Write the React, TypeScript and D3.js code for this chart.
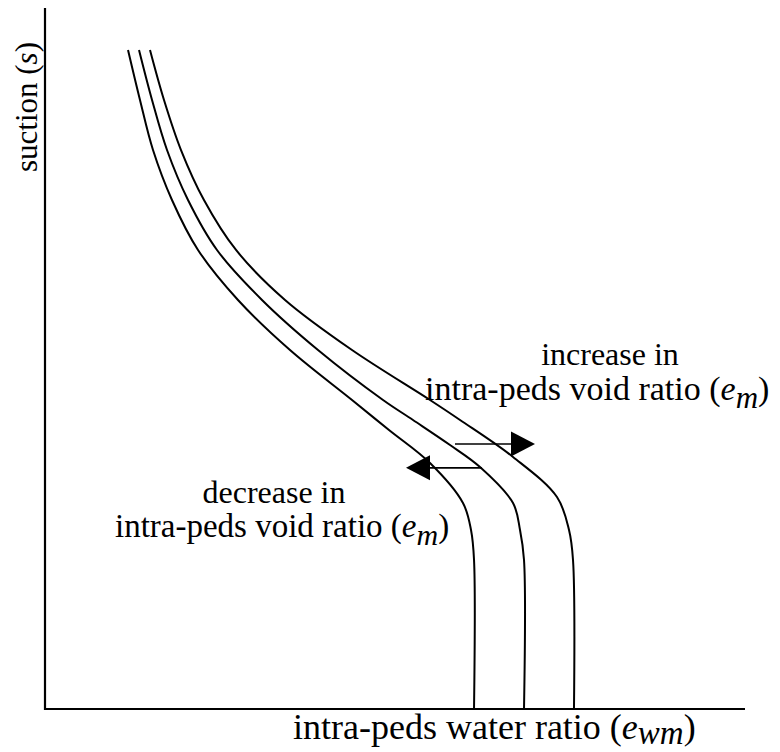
import React from "react";
import * as d3 from "d3";

// Data (arbitrary units, 0–100 on both axes): [ewm, s]
const curveLeft: [number, number][] = [
  [11.86, 94.01], [13.57, 86.88], [15.43, 79.74], [18.14, 72.61], [21.86, 65.48],
  [27.57, 58.35], [35.0, 51.21], [43.86, 44.08], [49.14, 39.8], [55.0, 35.09],
  [59.71, 29.39], [60.86, 25.53], [61.29, 21.26], [61.29, 0],
];
const curveMiddle: [number, number][] = [
  [13.43, 94.01], [15.29, 86.88], [17.43, 79.74], [20.43, 72.61], [24.57, 65.48],
  [31.0, 58.35], [39.0, 51.21], [48.29, 44.08], [52.57, 41.23], [57.86, 37.66],
  [62.14, 34.52], [66.86, 29.39], [67.86, 25.53], [68.43, 21.26], [68.43, 0],
];
const curveRight: [number, number][] = [
  [15.0, 94.01], [17.0, 86.88], [19.43, 79.74], [22.71, 72.61], [27.29, 65.48],
  [34.29, 58.35], [43.86, 51.21], [55.0, 44.08], [59.29, 41.23], [66.86, 35.95],
  [73.14, 30.24], [74.86, 25.53], [75.43, 21.26], [75.57, 0],
];
const curves = [curveLeft, curveMiddle, curveRight];

// arrows: [x0, x1, y]
const arrowIncrease: [number, number, number] = [58.57, 70.0, 37.8];
const arrowDecrease: [number, number, number] = [62.43, 51.57, 34.4];
const arrows = [arrowIncrease, arrowDecrease];

const yAxisLabel = ["suction (", "s", ")"];
const xAxisLabel = ["intra-peds water ratio (", "e", "wm", ")"];
const increaseLabel = ["increase in", "intra-peds void ratio (", "e", "m", ")"];
const decreaseLabel = ["decrease in", "intra-peds void ratio (", "e", "m", ")"];

const W = 780;
const H = 752;
const left = 45, right = 745, top = 8, bottom = 709;
const FONT = "'Liberation Serif', 'Times New Roman', serif";

export default function App() {
  const x = d3.scaleLinear().domain([0, 100]).range([left, right]);
  const y = d3.scaleLinear().domain([0, 100]).range([bottom, top]);
  const line = d3
    .line<[number, number]>()
    .x((d) => x(d[0]))
    .y((d) => y(d[1]))
    .curve(d3.curveCatmullRom.alpha(0.5));

  const sub = (t: string, size: number, dy: number) => (
    <tspan fontStyle="italic" fontSize={size} dy={dy}>{t}</tspan>
  );

  return (
    <div style={{ position: "absolute", left: 0, top: 0 }}>
      <svg width={W} height={H} style={{ display: "block", background: "#fff" }}>
        <rect width={W} height={H} fill="#fff" />
        {/* axes */}
        <path
          d={`M${left},${top}V${bottom}H${right}`}
          fill="none"
          stroke="#000"
          strokeWidth={2.2}
        />
        {curves.map((c, i) => (
          <path key={i} d={line(c) || ""} fill="none" stroke="#000" strokeWidth={2} />
        ))}
        {arrows.map((a, i) => {
          const x0 = x(a[0]);
          const x1 = x(a[1]);
          const yy = y(a[2]);
          const dir = x1 > x0 ? 1 : -1;
          const len = 24;
          const hw = 12.5;
          const base = x1 - dir * len;
          return (
            <g key={i}>
              <line x1={x0} y1={yy} x2={base} y2={yy} stroke="#000" strokeWidth={1.6} />
              <polygon
                points={`${x1},${yy} ${base},${yy - hw} ${base},${yy + hw}`}
                fill="#000"
              />
            </g>
          );
        })}
        {/* y axis label */}
        <text
          transform="translate(37,172) rotate(-90)"
          fontFamily={FONT}
          fontSize={31}
          fill="#000"
        >
          {yAxisLabel[0]}
          <tspan fontStyle="italic">{yAxisLabel[1]}</tspan>
          {yAxisLabel[2]}
        </text>
        {/* x axis label */}
        <text x={293} y={739} fontFamily={FONT} fontSize={36} fill="#000">
          {xAxisLabel[0]}
          <tspan fontStyle="italic">{xAxisLabel[1]}</tspan>
          {sub(xAxisLabel[2], 33, 5)}
          <tspan dy={-5}>{xAxisLabel[3]}</tspan>
        </text>
        {/* increase label */}
        <text x={610} y={365} textAnchor="middle" fontFamily={FONT} fontSize={32} fill="#000">
          {increaseLabel[0]}
        </text>
        <text x={425} y={400} fontFamily={FONT} fontSize={34} fill="#000">
          {increaseLabel[1]}
          <tspan fontStyle="italic">{increaseLabel[2]}</tspan>
          {sub(increaseLabel[3], 31, 8)}
          <tspan dy={-8}>{increaseLabel[4]}</tspan>
        </text>
        {/* decrease label */}
        <text x={274} y={503} textAnchor="middle" fontFamily={FONT} fontSize={32} fill="#000">
          {decreaseLabel[0]}
        </text>
        <text x={115} y={537} fontFamily={FONT} fontSize={33} fill="#000">
          {decreaseLabel[1]}
          <tspan fontStyle="italic">{decreaseLabel[2]}</tspan>
          {sub(decreaseLabel[3], 30, 8)}
          <tspan dy={-8}>{decreaseLabel[4]}</tspan>
        </text>
      </svg>
    </div>
  );
}
